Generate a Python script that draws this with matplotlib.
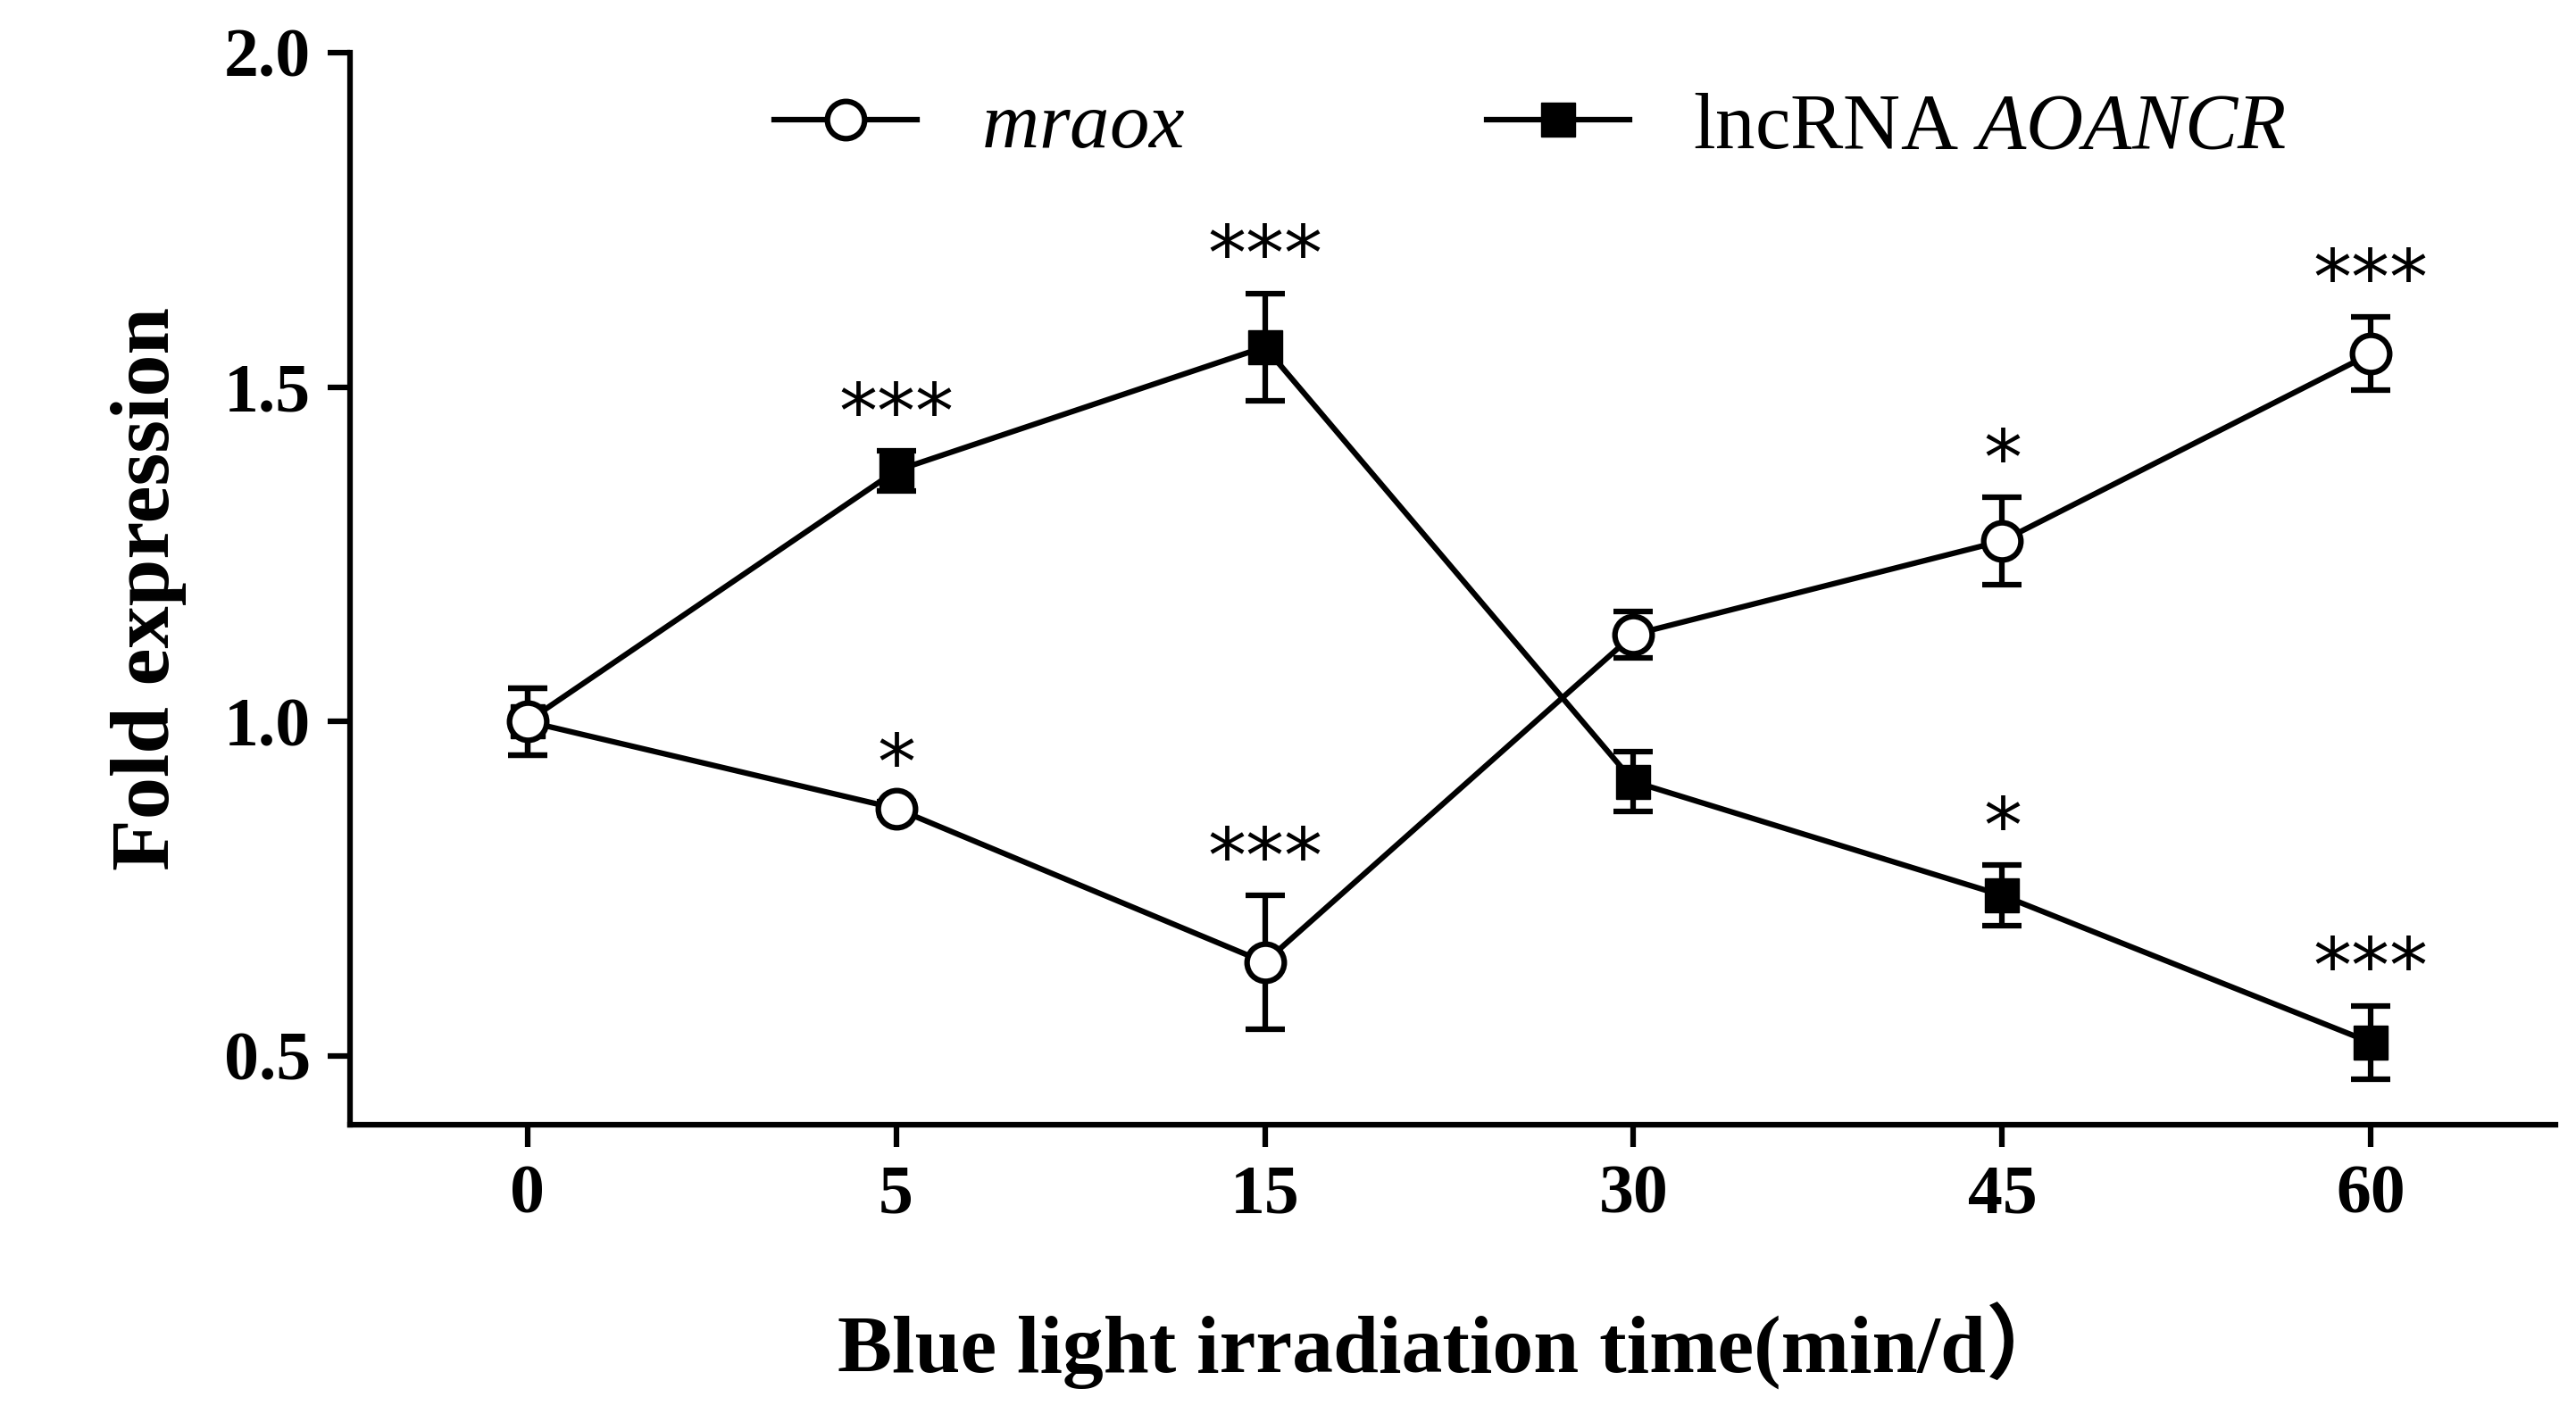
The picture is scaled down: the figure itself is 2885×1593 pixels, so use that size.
import matplotlib.pyplot as plt
from matplotlib.lines import Line2D

plt.rcParams['font.family'] = ['Liberation Serif', 'DejaVu Serif']
plt.rcParams['mathtext.fontset'] = 'custom'
plt.rcParams['mathtext.it'] = 'Liberation Serif:italic'
plt.rcParams['mathtext.rm'] = 'Liberation Serif'

times = ["0", "5", "15", "30", "45", "60"]
mraox = [1.0, 0.87, 0.64, 1.13, 1.27, 1.55]
mraox_err = [0.05, 0.01, 0.10, 0.035, 0.065, 0.055]
mraox_sig = ["", "*", "***", "", "*", "***"]
lnc = [1.0, 1.375, 1.56, 0.91, 0.74, 0.52]
lnc_err = [0.05, 0.03, 0.08, 0.045, 0.045, 0.055]
lnc_sig = ["", "***", "***", "", "*", "***"]

fig = plt.figure(figsize=(28.85, 15.93), dpi=100)
ax = fig.add_axes([0.136, 0.209, 0.856, 0.754])
x = list(range(len(times)))

ax.errorbar(x, mraox, yerr=mraox_err, color='black', marker='o', markersize=30,
            markerfacecolor='white', markeredgewidth=4.5, linewidth=4.5,
            elinewidth=4.5, capsize=16, capthick=4.5, zorder=3)
ax.errorbar(x, lnc, yerr=lnc_err, color='black', marker='s', markersize=28,
            linewidth=4.5, elinewidth=4.5, capsize=16, capthick=4.5, zorder=2)

for vals, errs, sigs in [(mraox, mraox_err, mraox_sig), (lnc, lnc_err, lnc_sig)]:
    for xi, v, e, s in zip(x, vals, errs, sigs):
        if s:
            ax.text(xi, v + e - 0.005, s, ha='center', va='bottom', fontsize=62,
                    family='DejaVu Sans')

ax.set_xlim(-0.48, 5.5)
ax.set_ylim(0.397, 2.0)
ax.set_yticks([0.5, 1.0, 1.5, 2.0])
ax.set_xticks(x)
ax.set_xticklabels(times)
ax.tick_params(labelsize=56, width=4.5, length=18, pad=14)
for t in ax.get_xticklabels() + ax.get_yticklabels():
    t.set_fontweight('bold')
for sp in ['top', 'right']:
    ax.spines[sp].set_visible(False)
for sp in ['left', 'bottom']:
    ax.spines[sp].set_linewidth(4.5)

ax.set_xlabel('Blue light irradiation time(min/d）', fontsize=66, fontweight='bold',
              labelpad=60, family=['Liberation Serif', 'Noto Sans CJK SC'])
ax.set_ylabel('Fold expression', fontsize=68, fontweight='bold', labelpad=30)

handles = [
    Line2D([], [], color='black', marker='o', markersize=30, markerfacecolor='white',
           markeredgewidth=4.5, linewidth=4.5),
    Line2D([], [], color='black', marker='s', markersize=28, linewidth=4.5),
]
ax.legend(handles, ['$\\it{mraox}$', 'lncRNA $\\it{AOANCR}$'], loc='upper left',
          bbox_to_anchor=(0.16, 1.03), ncol=2, frameon=False, fontsize=64,
          handlelength=1.8, columnspacing=3.8, handletextpad=0.8)

fig.savefig('out.png', dpi=100)
